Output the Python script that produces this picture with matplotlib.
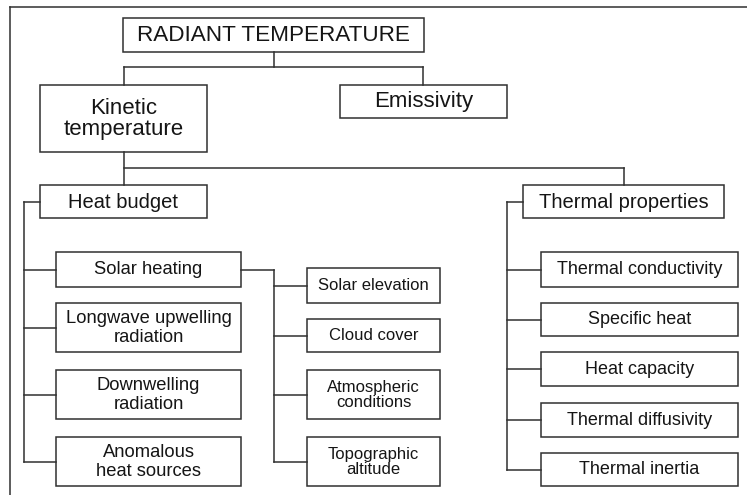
import matplotlib.pyplot as plt
from matplotlib.patches import Rectangle

plt.rcParams['font.family'] = ['Liberation Sans', 'DejaVu Sans']

# labels of the diagram
root_label = "RADIANT TEMPERATURE"
level1_labels = ["Kinetic\ntemperature", "Emissivity"]
level2_labels = ["Heat budget", "Thermal properties"]
heat_budget_items = ["Solar heating", "Longwave upwelling\nradiation",
                     "Downwelling\nradiation", "Anomalous\nheat sources"]
solar_items = ["Solar elevation", "Cloud cover", "Atmospheric\nconditions",
               "Topographic\naltitude"]
thermal_items = ["Thermal conductivity", "Specific heat", "Heat capacity",
                 "Thermal diffusivity", "Thermal inertia"]

LINE = '#303030'
TEXT = '#151515'
LW = 1.1

fig = plt.figure(figsize=(7.47, 4.95), dpi=100)
ax = fig.add_axes([0, 0, 1, 1])
ax.set_xlim(0, 747)
ax.set_ylim(495, 0)
ax.axis('off')


def box(x0, y0, x1, y1, label, size, ls=1.1):
    ax.add_patch(Rectangle((x0, y0), x1 - x0, y1 - y0, fill=False,
                           edgecolor=LINE, linewidth=LW))
    ax.text((x0 + x1) / 2, (y0 + y1) / 2 + 0.5, label, ha='center', va='center',
            fontsize=size, color=TEXT, linespacing=ls)
    return (x0, y0, x1, y1)


def seg(xs, ys):
    ax.plot(xs, ys, color=LINE, linewidth=LW, solid_capstyle='projecting')


# outer frame (top and left only)
seg([10, 747], [7, 7])
seg([10, 10], [7, 495])

# root and first level
box(123, 18, 424, 52, root_label, 16.2)
box(40, 85, 207, 152, level1_labels[0], 16, 1.05)
box(340, 85, 507, 118, level1_labels[1], 16)
seg([274, 274], [52, 67])
seg([124, 423], [67, 67])
seg([124, 124], [67, 85])
seg([423, 423], [67, 85])

# second level
box(40, 185, 207, 218, level2_labels[0], 14.5)
box(523, 185, 724, 218, level2_labels[1], 14.5)
seg([124, 124], [152, 185])
seg([124, 624], [168, 168])
seg([624, 624], [168, 185])

# heat budget branch
hb_rows = [(252, 287), (303, 352), (370, 419), (437, 486)]
mids = []
for (y0, y1), lab in zip(hb_rows, heat_budget_items):
    box(56, y0, 241, y1, lab, 13.2, 1.15)
    mids.append((y0 + y1) / 2)
    seg([24, 56], [mids[-1]] * 2)
seg([40, 24], [202, 202])
seg([24, 24], [202, mids[-1]])

# solar heating sub-branch
sol_rows = [(268, 303), (319, 352), (370, 419), (437, 486)]
smids = []
for (y0, y1), lab in zip(sol_rows, solar_items):
    box(307, y0, 440, y1, lab, 12, 1.0)
    smids.append((y0 + y1) / 2)
    seg([274, 307], [smids[-1]] * 2)
seg([241, 274], [mids[0], mids[0]])
seg([274, 274], [mids[0], smids[-1]])

# thermal properties branch
th_rows = [(252, 287), (303, 336), (352, 386), (403, 437), (453, 486)]
tmids = []
for (y0, y1), lab in zip(th_rows, thermal_items):
    box(541, y0, 738, y1, lab, 13)
    tmids.append((y0 + y1) / 2)
    seg([507, 541], [tmids[-1]] * 2)
seg([523, 507], [202, 202])
seg([507, 507], [202, tmids[-1]])

fig.savefig('out.png', dpi=100, facecolor='white')
